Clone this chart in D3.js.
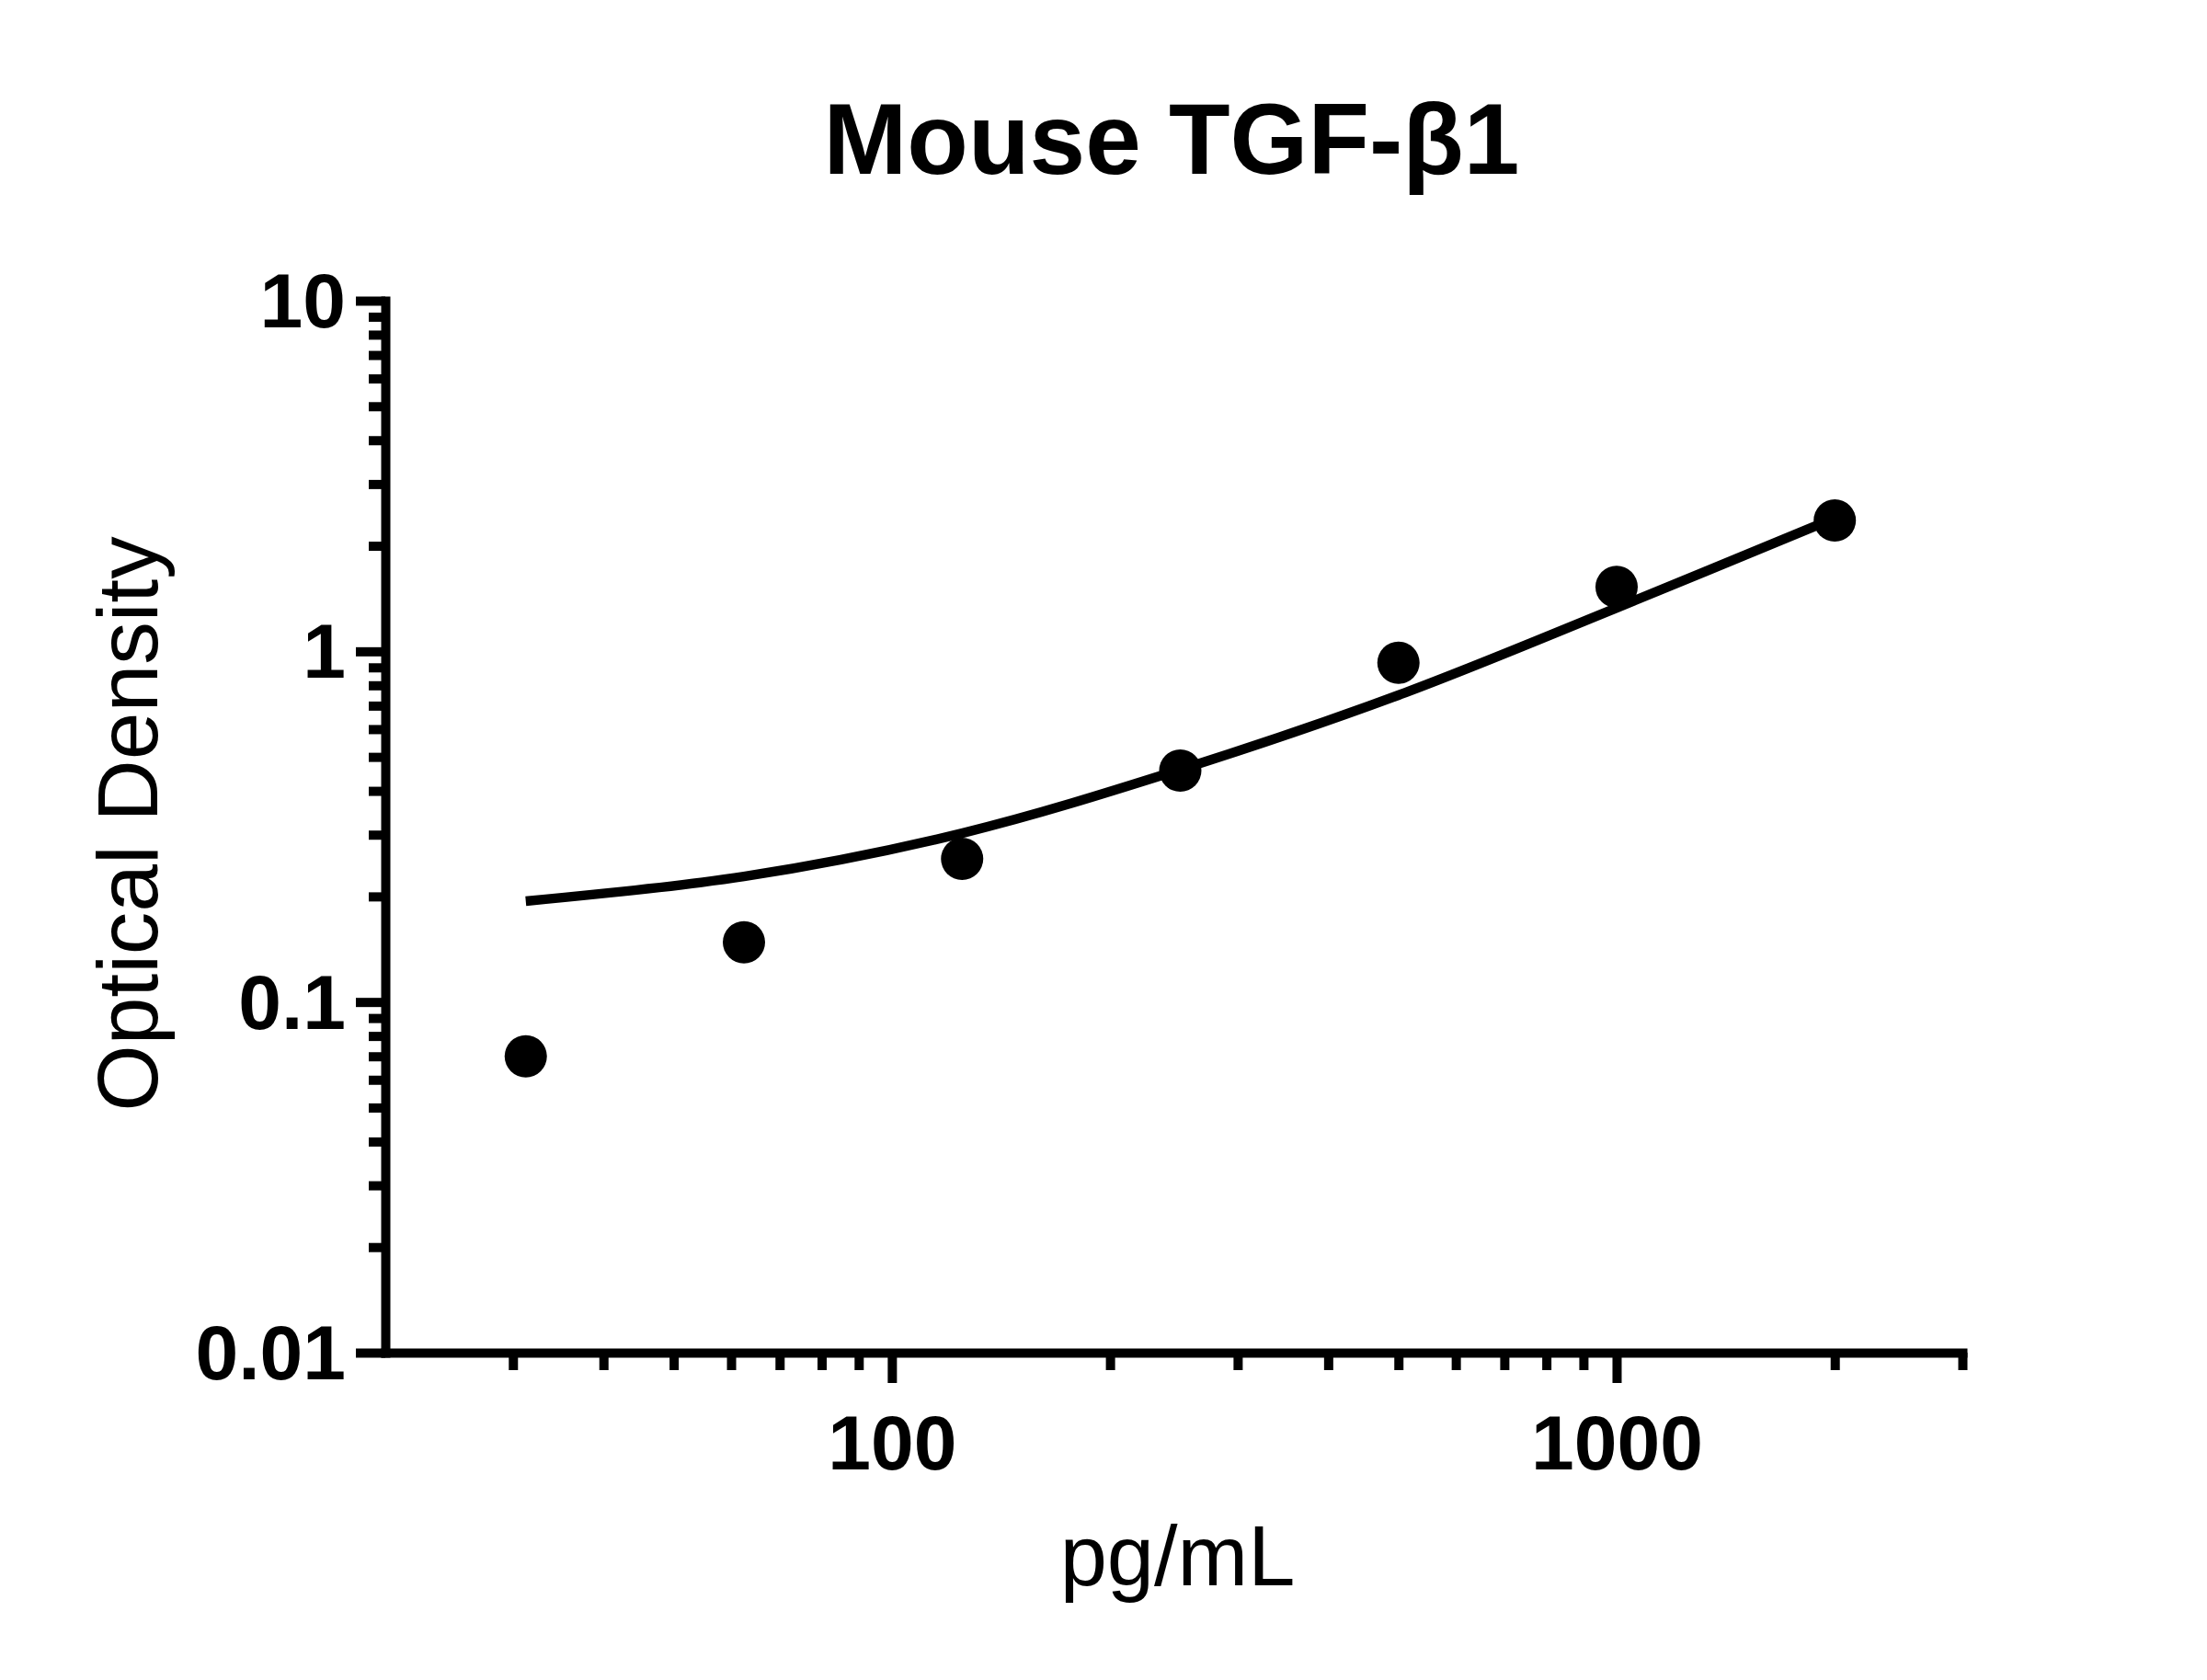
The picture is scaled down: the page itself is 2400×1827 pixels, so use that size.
<!DOCTYPE html>
<html>
<head>
<meta charset="utf-8">
<script src="https://d3js.org/d3.v7.min.js"></script>
<style>
  body { margin: 0; background: #fff; }
  svg { display: block; }
  text { font-family: 'Liberation Sans', Arial, sans-serif; fill: #000; }
  .axis path, .axis line { stroke: #000; stroke-width: 10; }
  .axis path { stroke-linecap: square; }
  .axis text { font-size: 84px; font-weight: bold; }
</style>
</head>
<body>
<script>
// standards (pg/mL) and measured optical density
var concentrations = [31.25, 62.5, 125, 250, 500, 1000, 2000];
var opticalDensity = [0.070, 0.148, 0.256, 0.457, 0.928, 1.526, 2.361];

// fitted standard curve at each standard
var fitConcentrations = [31.25, 62.5, 125, 250, 500, 1000, 2000];
var fitDensity = [0.194, 0.228, 0.303, 0.460, 0.750, 1.33, 2.40];

// axes
var xMajorTicks = [100, 1000];
var xMinorTicks = [30, 40, 50, 60, 70, 80, 90, 200, 300, 400, 500, 600, 700, 800, 900, 2000, 3000];
var yMajorTicks = [0.01, 0.1, 1, 10];
var yTickLabels = ['0.01', '0.1', '1', '10'];

var title = 'Mouse TGF-\u03b21';
var xLabel = 'pg/mL';
var yLabel = 'Optical Density';

var W = 2400, H = 1827;
var margin = { top: 327, right: 266, bottom: 356, left: 419 };
var width = W - margin.left - margin.right;
var height = H - margin.top - margin.bottom;

var svg = d3.select('body').append('svg')
  .attr('width', W)
  .attr('height', H);

var g = svg.append('g')
  .attr('transform', 'translate(' + margin.left + ',' + margin.top + ')');

var x = d3.scaleLog().domain([20, 3000]).range([0, width]);
var y = d3.scaleLog().domain([0.01, 10]).range([height, 0]);

// minor y ticks: 2..9 of every decade
var yMinorTicks = y.ticks().filter(function(v) {
  return Math.abs(Math.log10(v) - Math.round(Math.log10(v))) > 1e-6;
});

// minor ticks first so the axis line sits on top
g.append('g')
  .attr('class', 'axis')
  .attr('transform', 'translate(0,' + height + ')')
  .call(d3.axisBottom(x).tickValues(xMinorTicks).tickSize(19).tickSizeOuter(0).tickFormat(''))
  .select('.domain').remove();

g.append('g')
  .attr('class', 'axis')
  .call(d3.axisLeft(y).tickValues(yMinorTicks).tickSize(18).tickSizeOuter(0).tickFormat(''))
  .select('.domain').remove();

// major x axis
var xAxis = g.append('g')
  .attr('class', 'axis')
  .attr('transform', 'translate(0,' + height + ')')
  .call(d3.axisBottom(x).tickValues(xMajorTicks).tickSize(33).tickSizeOuter(0).tickPadding(34)
    .tickFormat(d3.format('d')));

// major y axis
var yAxis = g.append('g')
  .attr('class', 'axis')
  .call(d3.axisLeft(y).tickValues(yMajorTicks).tickSize(32).tickSizeOuter(0).tickPadding(11)
    .tickFormat(function(d, i) { return yTickLabels[i]; }));

xAxis.selectAll('text').attr('fill', '#000');
yAxis.selectAll('text').attr('fill', '#000').attr('dy', '0.34em');

// fitted curve
var fit = fitConcentrations.map(function(c, i) { return { x: c, y: fitDensity[i] }; });
var line = d3.line()
  .x(function(d) { return x(d.x); })
  .y(function(d) { return y(d.y); })
  .curve(d3.curveCatmullRom.alpha(0.5));

g.append('path')
  .datum(fit)
  .attr('d', line)
  .attr('fill', 'none')
  .attr('stroke', '#000')
  .attr('stroke-width', 10.5);

// standards
var points = concentrations.map(function(c, i) { return { x: c, y: opticalDensity[i] }; });
g.selectAll('circle.point')
  .data(points)
  .enter()
  .append('circle')
  .attr('class', 'point')
  .attr('cx', function(d) { return x(d.x); })
  .attr('cy', function(d) { return y(d.y); })
  .attr('r', 23)
  .attr('fill', '#000');

// title and axis labels
svg.append('text')
  .attr('x', 1274)
  .attr('y', 189)
  .attr('text-anchor', 'middle')
  .style('font-size', '109px')
  .style('font-weight', 'bold')
  .text(title);

svg.append('text')
  .attr('x', margin.left + width / 2 + 4)
  .attr('y', 1724)
  .attr('text-anchor', 'middle')
  .style('font-size', '92px')
  .text(xLabel);

svg.append('text')
  .attr('transform', 'translate(171,' + (margin.top + height / 2 - 3) + ') rotate(-90)')
  .attr('text-anchor', 'middle')
  .style('font-size', '93px')
  .text(yLabel);
</script>
</body>
</html>
